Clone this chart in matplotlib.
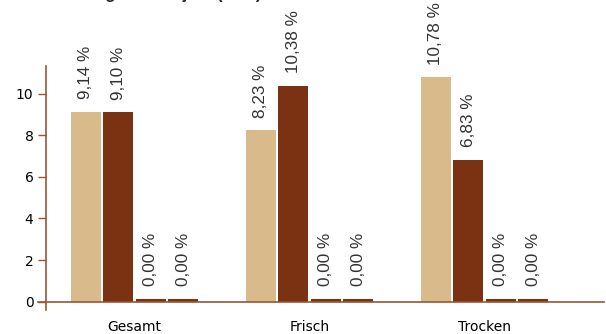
import matplotlib
matplotlib.use("Agg")
import matplotlib.pyplot as plt
import numpy as np

categories = ["Gesamt", "Frisch", "Trocken"]
series_1 = [9.14, 8.23, 10.78]
series_2 = [9.10, 10.38, 6.83]
series_3 = [0.00, 0.00, 0.00]
series_4 = [0.00, 0.00, 0.00]
yticks = [0, 2, 4, 6, 8, 10]
title = "Veränderung zum Vorjahr (in %)"

light = "#D9BA8A"
dark = "#7A3212"
axis_col = "#9A5530"
text_col = "#333333"

fig = plt.figure(figsize=(6.06, 3.34), dpi=100)
ax = fig.add_axes([38/606, 1 - 310/334, (604 - 38)/606, (310 - 66)/334])

x = np.arange(len(categories))
w = 0.171
step = 0.185
series = [series_1, series_2, series_3, series_4]
colors = [light, dark, dark, dark]
min_vis = 0.13  # minimum visible bar height for zero values
for i, (vals, col) in enumerate(zip(series, colors)):
    vals = np.array(vals, dtype=float)
    pos = x + (i - 1.5) * step
    heights = np.maximum(vals, min_vis)
    ax.bar(pos, heights, width=w, color=col, zorder=2)
    for p, v, h in zip(pos, vals, heights):
        lab = f"{v:.2f}".replace(".", ",") + " %"
        ax.annotate(lab, (p, h), xytext=(0, 9), textcoords="offset points",
                    rotation=90, ha="center", va="bottom", fontsize=12.3,
                    family="Liberation Sans", color=text_col, annotation_clip=False)

ax.set_xlim(-0.551, 2.683)
ax.set_ylim(-0.4, 11.33)
ax.set_yticks(yticks)
ax.set_yticklabels([str(t) for t in yticks], fontsize=14, family="Roboto", color=text_col)
ax.set_xticks(x)
ax.set_xticklabels(categories, fontsize=13, family="Roboto", color=text_col)
ax.tick_params(axis="x", length=0, pad=13)
ax.tick_params(axis="y", length=6, width=1, color=axis_col, pad=3)

for s in ["top", "right"]:
    ax.spines[s].set_visible(False)
ax.spines["bottom"].set_position(("data", 0))
ax.spines["left"].set_position(("axes", 8/566))
for s in ["bottom", "left"]:
    ax.spines[s].set_color(axis_col)
    ax.spines[s].set_linewidth(1.2)
    ax.spines[s].set_zorder(3)

fig.text(16/606, 1 + 1.5/334, title, fontsize=11.7, fontweight="bold",
         family="Liberation Sans", color="#222222", va="baseline", ha="left")

fig.savefig("out.png", dpi=100)
